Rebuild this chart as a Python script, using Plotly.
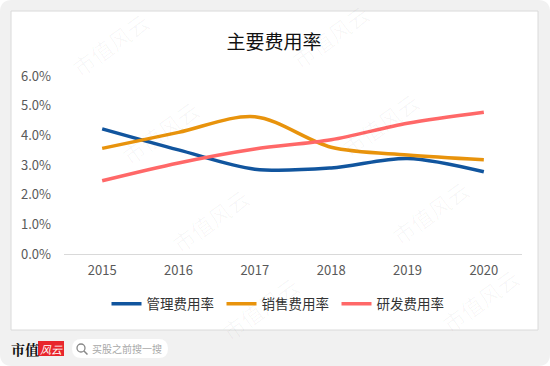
import plotly.graph_objects as go

# ---- data ----
years = ["2015", "2016", "2017", "2018", "2019", "2020"]
mgmt_rate = [4.22, 3.51, 2.86, 2.90, 3.22, 2.77]    # 管理费用率 (%)
sales_rate = [3.56, 4.10, 4.63, 3.60, 3.34, 3.18]   # 销售费用率 (%)
rnd_rate = [2.47, 3.07, 3.54, 3.85, 4.41, 4.78]     # 研发费用率 (%)
series_names = ["管理费用率", "销售费用率", "研发费用率"]
chart_title = "主要费用率"
y_ticks = [0, 1, 2, 3, 4, 5, 6]

W, H = 550, 366
ML, MR, MT, MB = 64, 28, 76, 112
PW, PH = W - ML - MR, H - MT - MB
FONT = "Noto Sans CJK SC"


def px(x):
    return (x - ML) / PW


def py(y):
    return (H - MB - y) / PH


colors = ["#11559E", "#E8930C", "#FF6868"]
fig = go.Figure()
for name, vals, c in zip(series_names, [mgmt_rate, sales_rate, rnd_rate], colors):
    fig.add_trace(go.Scatter(
        x=years, y=[v / 100 for v in vals], name=name, mode="lines",
        line=dict(color=c, width=3.5, shape="spline", smoothing=0.9),
        hoverinfo="skip"))

shapes = []
# outer gray rounded background
r = 12
shapes.append(dict(
    type="path", xref="paper", yref="paper", layer="below",
    path=(f"M {px(r)} {py(0)} L {px(W - r)} {py(0)} Q {px(W)} {py(0)} {px(W)} {py(r)} "
          f"L {px(W)} {py(H - r)} Q {px(W)} {py(H)} {px(W - r)} {py(H)} "
          f"L {px(r)} {py(H)} Q {px(0)} {py(H)} {px(0)} {py(H - r)} "
          f"L {px(0)} {py(r)} Q {px(0)} {py(0)} {px(r)} {py(0)} Z"),
    fillcolor="#F1F1F1", line=dict(width=0)))
# white panel
shapes.append(dict(type="rect", xref="paper", yref="paper", layer="below",
                   x0=px(11), x1=px(538), y0=py(11), y1=py(330),
                   fillcolor="white", line=dict(color="#DADADA", width=1)))
# red logo box
shapes.append(dict(type="rect", xref="paper", yref="paper", layer="above",
                   x0=px(38), x1=px(64), y0=py(341), y1=py(356),
                   fillcolor="#E8262C", line=dict(width=0)))
# search pill
pr = 9.5
x0, x1, y0, y1 = 72, 168, 339, 358
shapes.append(dict(
    type="path", xref="paper", yref="paper", layer="above",
    path=(f"M {px(x0 + pr)} {py(y0)} L {px(x1 - pr)} {py(y0)} "
          f"Q {px(x1)} {py(y0)} {px(x1)} {py((y0 + y1) / 2)} "
          f"Q {px(x1)} {py(y1)} {px(x1 - pr)} {py(y1)} "
          f"L {px(x0 + pr)} {py(y1)} Q {px(x0)} {py(y1)} {px(x0)} {py((y0 + y1) / 2)} "
          f"Q {px(x0)} {py(y0)} {px(x0 + pr)} {py(y0)} Z"),
    fillcolor="white", line=dict(width=0)))
# magnifier
shapes.append(dict(type="circle", xref="paper", yref="paper", layer="above",
                   x0=px(77), x1=px(85), y0=py(344), y1=py(352),
                   line=dict(color="#888", width=1.3)))
shapes.append(dict(type="line", xref="paper", yref="paper", layer="above",
                   x0=px(84), x1=px(87.5), y0=py(351), y1=py(354.5),
                   line=dict(color="#888", width=1.5)))

annotations = []
# watermarks (kept fully inside the picture)
for i in range(-1, 3):
    for j in range(-1, 5):
        cx = 110 + 220 * i + 50 * j
        cy = 44 - 8 * i + 88 * j
        if 46 < cx < 504 and 34 < cy < 332:
            annotations.append(dict(
                text="市值风云", xref="paper", yref="paper", x=px(cx), y=py(cy),
                xanchor="center", yanchor="middle",
                showarrow=False, textangle=-36,
                font=dict(family=FONT, size=22, color="rgba(0,0,0,0.03)")))
annotations.append(dict(text="<b>市值</b>", xref="paper", yref="paper",
                        x=px(25), y=py(348.5), xanchor="center", yanchor="middle",
                        showarrow=False,
                        font=dict(family="Noto Serif CJK SC, " + FONT, size=14, color="#111")))
annotations.append(dict(text="<i>风云</i>", xref="paper", yref="paper",
                        x=px(51), y=py(348.5), xanchor="center", yanchor="middle",
                        showarrow=False,
                        font=dict(family=FONT, size=11, color="white")))
annotations.append(dict(text="买股之前搜一搜", xref="paper", yref="paper",
                        x=px(90), y=py(348.5), xanchor="left", yanchor="middle",
                        showarrow=False,
                        font=dict(family=FONT, size=10, color="#A8A8A8")))

fig.update_layout(
    width=W, height=H,
    margin=dict(l=ML, r=MR, t=MT, b=MB, autoexpand=False),
    paper_bgcolor="white", plot_bgcolor="rgba(0,0,0,0)",
    font=dict(family=FONT, color="#595959"),
    title=dict(text=chart_title, xref="container", yref="container",
               x=274 / W, y=1 - 42 / H, xanchor="center", yanchor="middle",
               font=dict(family=FONT, size=19, color="#111")),
    xaxis=dict(type="category", range=[-0.5, 5.5], showgrid=False, zeroline=False,
               showline=True, linecolor="#D9D9D9", linewidth=1.2, ticks="",
               ticklabelstandoff=4,
               tickfont=dict(family=FONT, size=13, color="#595959")),
    yaxis=dict(range=[0, 0.06], tickvals=[t / 100 for t in y_ticks], tickformat=".1%",
               showgrid=False, zeroline=False, showline=False, ticks="",
               ticklabelstandoff=12,
               tickfont=dict(family=FONT, size=13, color="#595959")),
    legend=dict(orientation="h", xref="container", yref="container",
                x=279 / W, y=1 - 304 / H, xanchor="center", yanchor="middle",
                entrywidth=70, entrywidthmode="pixels",
                font=dict(family=FONT, size=13.5, color="#333"),
                bgcolor="rgba(0,0,0,0)"),
    shapes=shapes, annotations=annotations,
    showlegend=True,
)

fig.write_html("out.html", config={"displayModeBar": False},
               post_script="document.body.style.margin='0';document.body.style.overflow='hidden';")
